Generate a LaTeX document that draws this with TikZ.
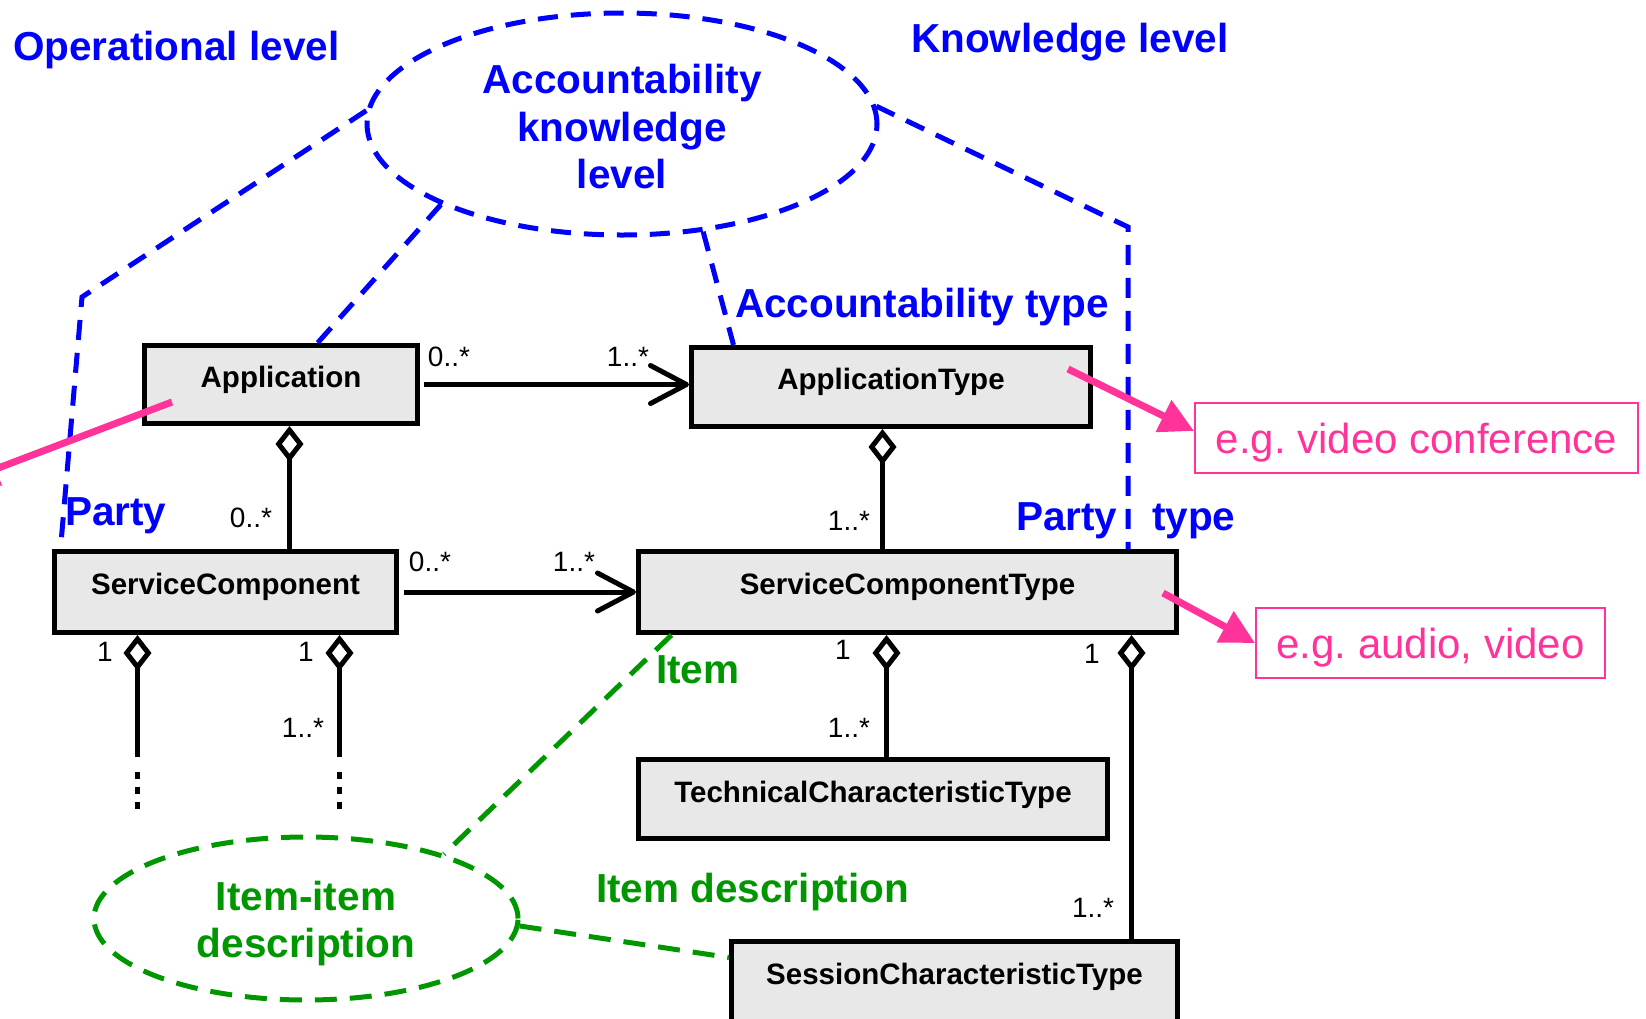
\documentclass[tikz,border=0pt]{standalone}
\usepackage{fontspec}
\setmainfont{Liberation Sans}
\usetikzlibrary{arrows.meta,calc,shapes.geometric}
\definecolor{lvlblue}{RGB}{0,0,255}
\definecolor{itgreen}{RGB}{0,150,0}
\definecolor{hotpink}{RGB}{255,51,153}
\definecolor{boxgray}{RGB}{232,232,232}
\frenchspacing
\begin{document}
\begin{tikzpicture}[x=1pt,y=-1pt,
  cls/.style={draw=black, line width=5pt, fill=boxgray, inner xsep=0pt, inner ysep=0pt,
    anchor=north west, font=\fontsize{29.5}{35}\selectfont\bfseries},
  mult/.style={font=\fontsize{28}{33}\selectfont, inner sep=0pt},
  lvl/.style={text=lvlblue, font=\fontsize{40.5}{47.5}\selectfont\bfseries, inner sep=0pt, anchor=base west},
  itm/.style={text=itgreen, font=\fontsize{40.5}{47.5}\selectfont\bfseries, inner sep=0pt, anchor=base west},
  bdash/.style={draw=lvlblue, line width=5pt, dash pattern=on 20pt off 13pt},
  gdash/.style={draw=itgreen, line width=5pt, dash pattern=on 22pt off 13pt},
  assoc/.style={draw=black, line width=5pt, -{Straight Barb[length=36pt,width=38pt,round]}},
  agg/.style={draw=black, line width=5pt, {Diamond[open,length=36pt,width=28pt]}-},
  dotend/.style={draw=black, line width=5pt, dash pattern=on 7pt off 8pt},
  note/.style={draw=hotpink, line width=2pt, text=hotpink, font=\fontsize{42}{48}\selectfont,
    inner xsep=0pt, inner ysep=0pt, text height=50pt, text depth=20pt, anchor=north west},
  pinkarrow/.style={draw=hotpink, line width=7pt, -{Triangle[length=34pt,width=34pt]}},
  ell/.style={ellipse, line width=5pt, inner sep=0pt},
  elltext/.style={inner sep=0pt, align=center, font=\fontsize{40.5}{47.5}\selectfont\bfseries}
]
\useasboundingbox (0,0) rectangle (1646,1018);
\clip (0,0) rectangle (1646,1018);

% ---- ellipses ----
\node[ell, bdash, minimum width=510pt, minimum height=222pt] (acc) at (622,124) {};
\node[elltext, text=lvlblue] (acctext) at ($(acc.center)+(0,3)$) {Accountability\\knowledge\\level};
\node[ell, gdash, minimum width=424pt, minimum height=163pt] (iid) at (306,918.5) {};
\node[elltext, text=itgreen] (iidtext) at ($(iid.center)+(0,5)$) {Item-item\\description};

% ---- classes ----
\node[cls, minimum width=273pt, text height=42pt, text depth=36pt] (app) at (142,343) {Application};
\node[cls, minimum width=399pt, text height=42pt, text depth=37pt] (apt) at (689,345) {ApplicationType};
\node[cls, minimum width=342pt, text height=43pt, text depth=38pt] (sc) at (52,549) {ServiceComponent};
\node[cls, minimum width=538pt, text height=43pt, text depth=38pt] (sct) at (636,549) {ServiceComponentType};
\node[cls, minimum width=469pt, text height=43pt, text depth=36pt] (tct) at (636,757) {TechnicalCharacteristicType};
\node[cls, minimum width=446pt, text height=43pt, text depth=38pt] (sess) at (729,939) {SessionCharacteristicType};

% ---- blue dashed level boundaries ----
\coordinate (L1) at (82,297);
\coordinate (R1) at (1128,227);
\draw[bdash] (acc.177) -- (L1) -- ($(sc.north)+(-165,0)$);
\draw[bdash] (acc.204) -- ($(app.north)+(36.5,0)$);
\draw[bdash] (acc.307) -- ($(apt.north)+(-157.5,0)$);
\draw[bdash] (acc.4) -- (R1) -- (R1 |- sct.north);

% ---- green dashed ----
\draw[gdash] ($(sct.south)+(-236,0)$) -- (iid.25);
\draw[gdash] (iid.358) -- ($(sess.west)+(0,-24.5)$);

% ---- associations ----
\draw[assoc, shorten <=3.5pt] (app.east) -- (app.east -| apt.west);
\draw[assoc, shorten <=5pt] (sc.east) -- (sc.east -| sct.west);

% ---- aggregations ----
\draw[agg] ($(app.south)+(8.5,0)$) coordinate (g1) -- (g1 |- sc.north);
\draw[agg] ($(apt.south)+(-8.5,0)$) coordinate (g2) -- (g2 |- sct.north);
\draw[agg] ($(sct.south)+(-21,0)$) coordinate (g3) -- (g3 |- tct.north);
\draw[agg] ($(sct.south)+(224,0)$) coordinate (g4) -- (g4 |- sess.north);
\draw[agg] ($(sc.south)+(-88,0)$) -- ++(0,122) coordinate (d1);
\draw[agg] ($(sc.south)+(114,0)$) -- ++(0,122) coordinate (d2);
\draw[dotend] (d1) ++(0,15) -- ++(0,37);
\draw[dotend] (d2) ++(0,15) -- ++(0,37);

% ---- multiplicities ----
\node[mult] (m1) at (449,357) {0..*};
\node[mult] (m2) at (628,357) {1..*};
\node[mult] (m3) at (430,562) {0..*};
\node[mult] (m4) at (574,562) {1..*};
\node[mult] (m5) at (251,518) {0..*};
\node[mult] (m6) at (849,521) {1..*};
\node[mult] (m7) at (105,652) {1};
\node[mult] (m8) at (306,652) {1};
\node[mult] (m9) at (303,728) {1..*};
\node[mult] (m10) at (843,650) {1};
\node[mult] (m11) at (849,728) {1..*};
\node[mult] (m12) at (1092,654) {1};
\node[mult] (m13) at (1093,908) {1..*};

% ---- level labels ----
\node[lvl] (t1) at (13,60) {Operational level};
\node[lvl] (t2) at (911,52) {Knowledge level};
\node[lvl] (t3) at (735,317) {Accountability type};
\node[lvl] (t4) at (65,525) {Party};
\node[lvl] (t5) at (1016,530) {Party};
\node[lvl] (t6) at (1152,530) {type};
\node[itm] (t7) at (656,683) {Item};
\node[itm] (t8) at (596,902) {Item description};

% ---- notes ----
\node[note, minimum width=443pt] (eg1) at (1194,402) {e.g. video conference};
\node[note, minimum width=349pt] (eg2) at (1255,607) {e.g. audio, video};

% ---- pink arrows ----
\coordinate (pk1) at (172,402);
\coordinate (pk1e) at (-36,481);
\coordinate (pk2) at (1068,369);
\coordinate (pk3) at (1163,593);
\draw[pinkarrow] (pk1) -- (pk1e);
\draw[pinkarrow] (pk2) -- ($(eg1.west)+(0,-7)$);
\draw[pinkarrow] (pk3) -- (eg2.west);
\end{tikzpicture}
\end{document}
